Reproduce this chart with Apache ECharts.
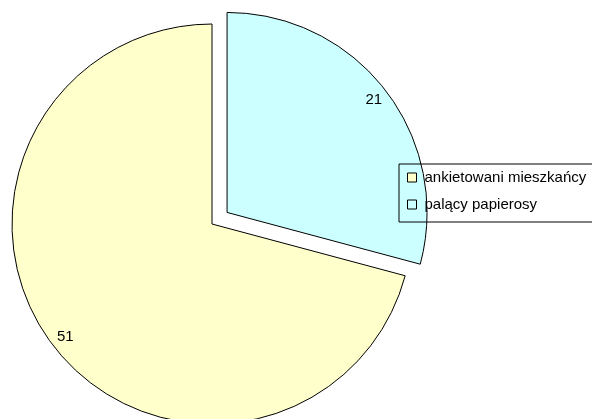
<!DOCTYPE html>
<html>
<head>
<meta charset="utf-8">
<script src="https://cdn.jsdelivr.net/npm/echarts@6/dist/echarts.min.js"></script>
<style>
  html, body { margin: 0; padding: 0; background: #fff; }
</style>
</head>
<body>
<div id="main" style="width: 592px;height:419px;"></div>
<script>
// data
const categories = ['palący papierosy', 'ankietowani mieszkańcy']
const values = [21, 51]
const exploded = [true, false]
const legendNames = ['ankietowani mieszkańcy', 'palący papierosy']

const sliceColors = ['#CCFFFF', '#FFFFCC']

const pieData = categories.map((name, i) => ({
  name: name,
  value: values[i],
  selected: exploded[i],
  itemStyle: { color: sliceColors[i] }
}))

// same slices again, only to carry the labels near the rim
const labelData = categories.map((name, i) => ({
  name: name,
  value: values[i],
  selected: exploded[i]
}))

const font = 'Liberation Sans, Arial, sans-serif'

const option = {
  animation: false,
  legend: {
    data: legendNames,
    orient: 'vertical',
    left: 399,
    top: 164,
    padding: [6, 12, 10, 8],
    itemWidth: 9,
    itemHeight: 9,
    itemGap: 12,
    icon: 'rect',
    selectedMode: false,
    borderColor: '#000',
    borderWidth: 1,
    backgroundColor: 'transparent',
    itemStyle: { borderColor: '#000', borderWidth: 1 },
    textStyle: {
      fontFamily: font,
      fontSize: 15,
      lineHeight: 15,
      color: '#000',
      padding: [0, 0, 0, 3]
    }
  },
  series: [
    {
      name: 'main',
      type: 'pie',
      center: [212, 224],
      radius: 200,
      startAngle: 90,
      selectedMode: 'single',
      selectedOffset: 19,
      silent: true,
      emphasis: { disabled: true },
      itemStyle: { borderColor: '#000', borderWidth: 1 },
      label: { show: false },
      labelLine: { show: false },
      data: pieData
    },
    {
      name: 'labels',
      type: 'pie',
      center: [212, 224],
      radius: [164, 200],
      startAngle: 90,
      selectedMode: 'single',
      selectedOffset: 19,
      silent: true,
      emphasis: { disabled: true },
      itemStyle: { color: 'transparent', borderWidth: 0 },
      label: {
        show: true,
        position: 'inside',
        formatter: '{c}',
        fontFamily: font,
        fontSize: 15,
        color: '#000'
      },
      labelLine: { show: false },
      data: labelData
    }
  ]
}

const myChart = echarts.init(document.getElementById('main'))
myChart.setOption(option)
</script>
</body>
</html>
